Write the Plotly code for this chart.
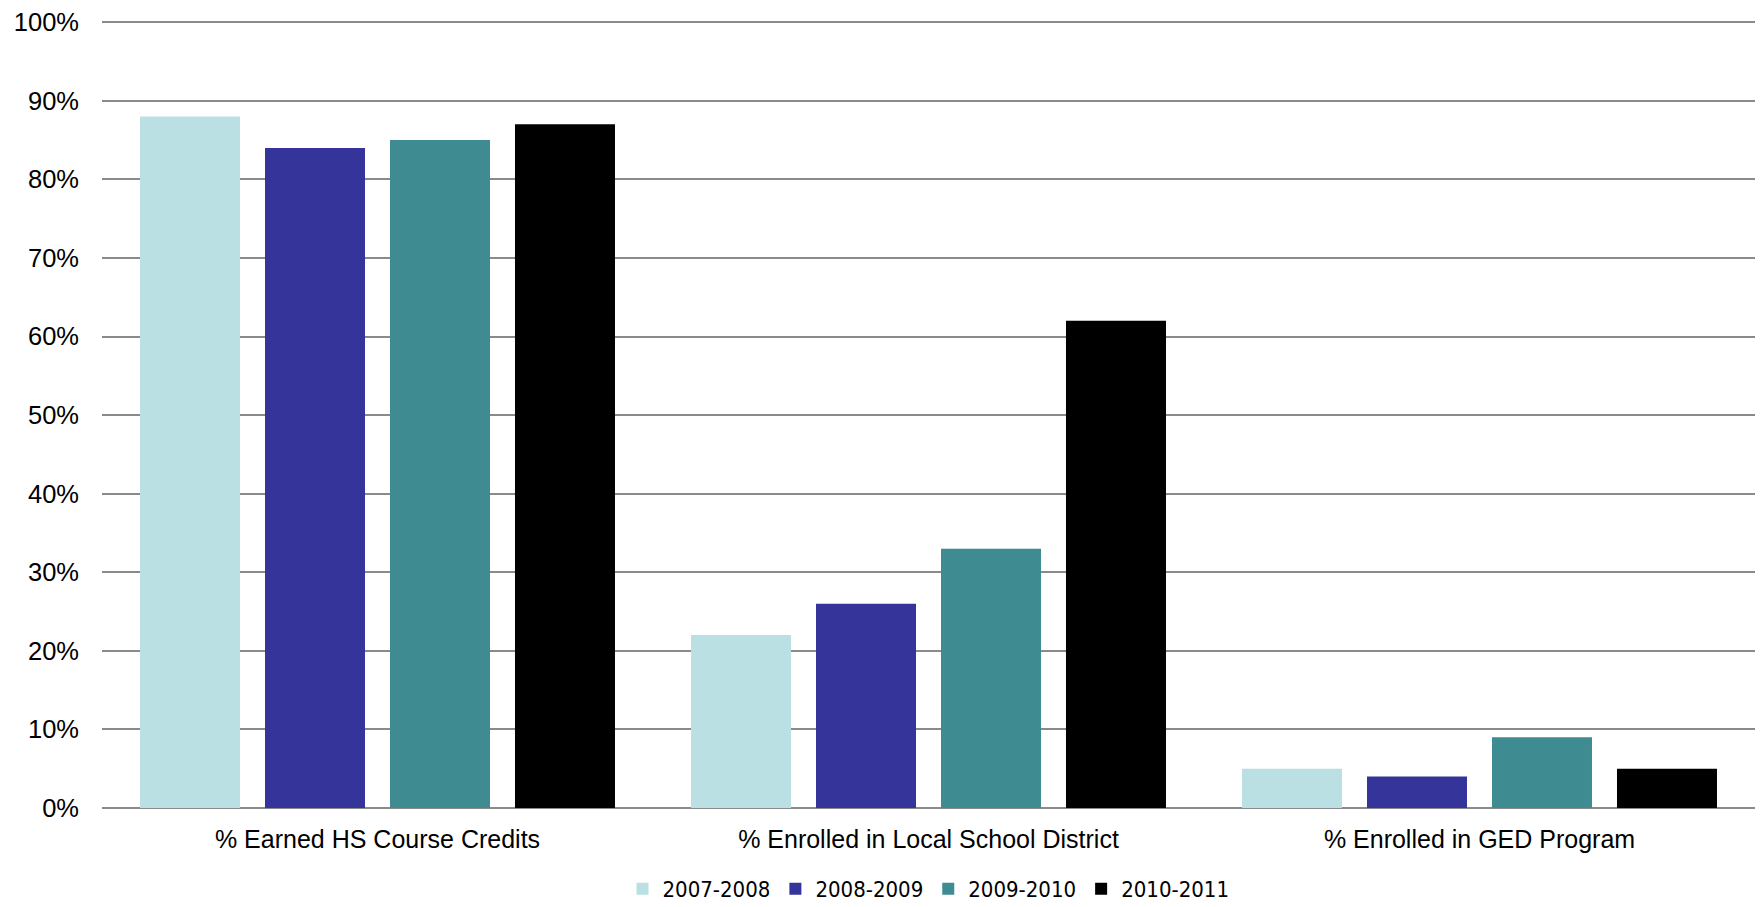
import plotly.graph_objects as go

categories = ["% Earned HS Course Credits", "% Enrolled in Local School District", "% Enrolled in GED Program"]
years = ["2007-2008", "2008-2009", "2009-2010", "2010-2011"]
v_2007 = [88, 22, 5]
v_2008 = [84, 26, 4]
v_2009 = [85, 33, 9]
v_2010 = [87, 62, 5]
colors = ["#BAE0E3", "#35349A", "#3E8B92", "#000000"]

fig = go.Figure()
for name, vals, c in zip(years, [v_2007, v_2008, v_2009, v_2010], colors):
    fig.add_trace(go.Bar(
        x=categories, y=vals, name=name,
        marker=dict(color=c, line=dict(width=0)),
    ))

fig.update_layout(
    width=1762, height=907,
    margin=dict(l=102, r=7, t=21, b=99, autoexpand=False),
    paper_bgcolor="white", plot_bgcolor="white",
    font=dict(family="Liberation Sans, Arial", size=25, color="black"),
    barmode="group", bargap=0.0926, bargroupgap=0.2,
    showlegend=True,
    legend=dict(orientation="h", x=0.5, xanchor="center", y=-0.103, yanchor="middle",
                font=dict(family="Liberation Sans Narrow, DejaVu Sans Condensed, Liberation Sans", size=22),
                itemwidth=30, traceorder="normal"),
    xaxis=dict(showline=False, showgrid=False, ticks="", ticklabelstandoff=14,
               tickfont=dict(size=25)),
    yaxis=dict(range=[0, 100.15], dtick=10, ticksuffix="%", showgrid=True,
               gridcolor="#8a8a8a", gridwidth=1.5, zeroline=True, zerolinecolor="#8a8a8a",
               zerolinewidth=2, ticks="", ticklabelstandoff=22, tickfont=dict(size=25.5)),
)

# page body has a default 8px margin; drop it so the figure sits at the window corner
fig.write_html("out.html", config={"displayModeBar": False},
               post_script="document.body.style.margin='0';")
